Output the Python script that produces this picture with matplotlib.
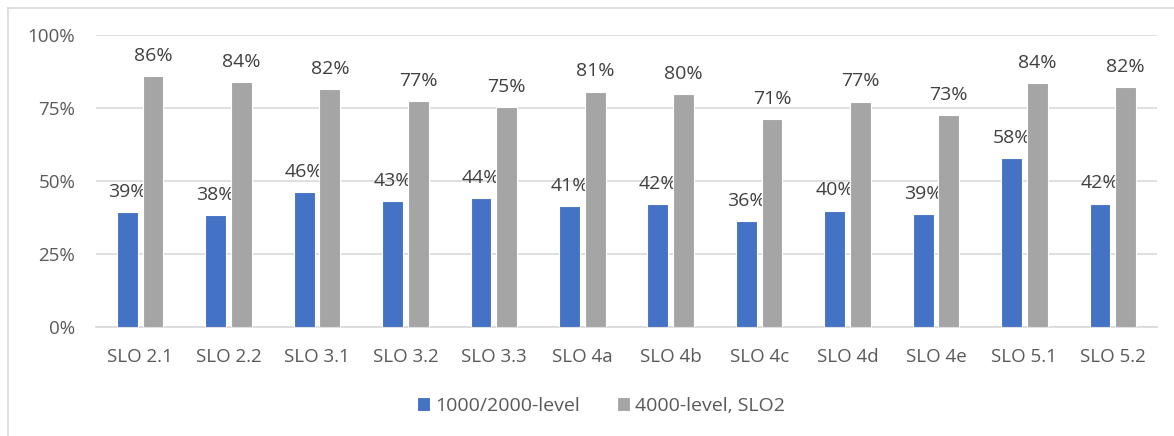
import matplotlib
matplotlib.use("Agg")
import matplotlib.pyplot as plt
from matplotlib.lines import Line2D
import numpy as np

categories = ["SLO 2.1", "SLO 2.2", "SLO 3.1", "SLO 3.2", "SLO 3.3", "SLO 4a",
              "SLO 4b", "SLO 4c", "SLO 4d", "SLO 4e", "SLO 5.1", "SLO 5.2"]
lower_level = [39.2, 38.2, 46.2, 43.2, 44.2, 41.4, 42.0, 36.1, 39.8, 38.6, 57.7, 42.2]
upper_level = [86.0, 83.8, 81.5, 77.3, 75.3, 80.6, 79.8, 71.3, 77.2, 72.6, 83.6, 82.1]
series_names = ["1000/2000-level", "4000-level, SLO2"]
colors = ["#4472C4", "#A5A5A5"]
yticks = [0, 25, 50, 75, 100]

plt.rcParams['font.family'] = ['Open Sans', 'DejaVu Sans']

W, H = 1174, 436
fig = plt.figure(figsize=(W / 100, H / 100), dpi=100)
ax = fig.add_axes([96 / W, 1 - 326.7 / H, (1157 - 96) / W, (326.7 - 35) / H])

x = np.arange(len(categories))
bw = 0.235
off = 0.145
text_col = "#595959"

for vals, name, col, dx in [(lower_level, series_names[0], colors[0], -off),
                            (upper_level, series_names[1], colors[1], off)]:
    bars = ax.bar(x + dx, vals, width=bw, color=col, edgecolor="white",
                  linewidth=0.8, label=name, zorder=3)
    for b, v in zip(bars, vals):
        ax.annotate(f"{round(v)}%", (b.get_x() + b.get_width() / 2, v),
                    xytext=(0, 8), textcoords="offset points",
                    ha="center", va="bottom", fontsize=14, color="#404040")

ax.set_xlim(-0.5, len(categories) - 0.5)
ax.set_ylim(0, 100)
ax.set_yticks(yticks)
ax.set_yticklabels([f"{t}%" for t in yticks])
ax.set_xticks(x)
ax.set_xticklabels(categories)
ax.tick_params(axis="both", length=0, labelsize=13.5, colors=text_col)
ax.tick_params(axis="y", pad=15)
ax.tick_params(axis="x", pad=15)
ax.grid(axis="y", color="#D9D9D9", linewidth=1.2, zorder=0)
for s in ["top", "right", "left"]:
    ax.spines[s].set_visible(False)
ax.spines["bottom"].set_color("#D9D9D9")
ax.spines["bottom"].set_linewidth(1.2)

leg = fig.legend(loc="center", bbox_to_anchor=(601 / W, 1 - 406 / H), ncol=2,
                 frameon=False, fontsize=14, handlelength=0.7, handleheight=0.7,
                 handletextpad=0.25, columnspacing=1.9)
for t in leg.get_texts():
    t.set_color(text_col)

# outer chart border (top and left visible)
fig.add_artist(Line2D([8 / W, 1], [1 - 8 / H, 1 - 8 / H], color="#D9D9D9", linewidth=1.2))
fig.add_artist(Line2D([8 / W, 8 / W], [0, 1 - 8 / H], color="#D9D9D9", linewidth=1.2))

fig.savefig("out.png", dpi=100, facecolor="white")
